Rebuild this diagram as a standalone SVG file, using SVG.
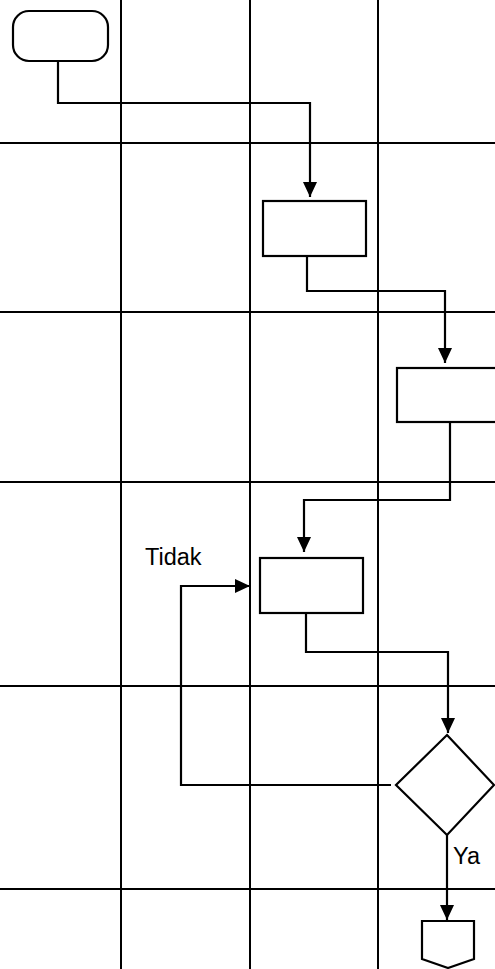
<svg xmlns="http://www.w3.org/2000/svg" width="495" height="969" viewBox="0 0 495 969">
<style>
.grid{stroke:#000;stroke-width:2;fill:none}
.shape{stroke:#000;stroke-width:2.2;fill:#fff}
.conn{stroke:#000;stroke-width:2.2;fill:none}
.lbl{font-family:"Liberation Sans",Arial,sans-serif;font-size:23.5px;fill:#000}
</style>
<defs>
<marker id="ah" viewBox="0 0 15 14" refX="15" refY="7" markerWidth="15" markerHeight="14" markerUnits="userSpaceOnUse" orient="auto">
<path d="M0,0 L15,7 L0,14 Z" fill="#000"/>
</marker>
</defs>
<rect width="495" height="969" fill="#fff"/>
<g id="grid" class="grid">
<line x1="121" y1="0" x2="121" y2="969"/>
<line x1="250" y1="0" x2="250" y2="969"/>
<line x1="378" y1="0" x2="378" y2="969"/>
<line x1="0" y1="143" x2="495" y2="143"/>
<line x1="0" y1="312" x2="495" y2="312"/>
<line x1="0" y1="482" x2="495" y2="482"/>
<line x1="0" y1="686" x2="495" y2="686"/>
<line x1="0" y1="889" x2="495" y2="889"/>
</g>
<g id="connectors" class="conn">
<polyline points="58,58 58,103 310,103 310,197" marker-end="url(#ah)"/>
<polyline points="307,256 307,291 445,291 445,363" marker-end="url(#ah)"/>
<polyline points="450,422 450,500 304,500 304,552" marker-end="url(#ah)"/>
<polyline points="306,613 306,652 448,652 448,733" marker-end="url(#ah)"/>
<polyline points="391,785 181,785 181,586 250,586" marker-end="url(#ah)"/>
<polyline points="447,835 447,920" marker-end="url(#ah)"/>
</g>
<g id="start"><rect class="shape" x="13" y="11" width="95" height="50" rx="16" ry="16"/></g>
<g id="process1"><rect class="shape" x="263" y="201" width="103" height="55"/></g>
<g id="process2"><rect class="shape" x="397" y="368" width="103" height="54"/></g>
<g id="process3"><rect class="shape" x="260" y="558" width="103" height="55"/></g>
<g id="decision"><polygon class="shape" points="447,735 494,785 447,835 396,785"/></g>
<g id="offpage"><polygon class="shape" points="422,921 474,921 474,959 448,968 422,959"/></g>
<g id="labels">
<text class="lbl" x="145" y="565">Tidak</text>
<text class="lbl" x="453" y="864">Ya</text>
</g>
</svg>
